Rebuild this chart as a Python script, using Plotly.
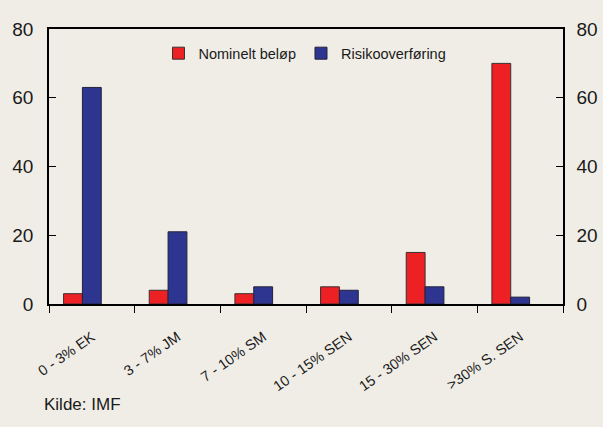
import plotly.graph_objects as go

# Tranches by seniority
categories = ["0 - 3% EK", "3 - 7% JM", "7 - 10% SM", "10 - 15% SEN", "15 - 30% SEN", ">30% S. SEN"]
nominelt = [3, 4, 3, 5, 15, 70]
risiko = [63, 21, 5, 4, 5, 2]
y_ticks = [0, 20, 40, 60, 80]

BG = "#f0ede6"
RED = "#ed2024"
BLUE = "#2e3590"
INK = "#1a1a1a"
FONT = "Liberation Sans, Arial, sans-serif"

pos = list(range(len(categories)))

fig = go.Figure()
fig.add_trace(go.Bar(
    x=pos, y=nominelt, name="Nominelt beløp",
    width=0.22, offset=-0.33,
    marker=dict(color=RED, line=dict(color="#3a3030", width=1)),
))
fig.add_trace(go.Bar(
    x=pos, y=risiko, name="Risikooverføring",
    width=0.22, offset=-0.11,
    marker=dict(color=BLUE, line=dict(color="#22223a", width=1)),
))
# carrier for the label axis and right-hand axis
fig.add_trace(go.Scatter(
    x=pos, y=[0] * len(pos), xaxis="x2", yaxis="y2",
    mode="markers", marker=dict(opacity=0), showlegend=False, hoverinfo="skip",
))

xr = [-0.5, len(categories) - 0.5]
yr = [0, 80]

fig.update_layout(
    width=603, height=427,
    paper_bgcolor=BG, plot_bgcolor=BG,
    margin=dict(l=49, r=40, t=29, b=123, autoexpand=False),
    font=dict(family=FONT, color=INK, size=15),
    barmode="overlay",
    showlegend=True,
    legend=dict(
        orientation="h", x=0.213, y=0.97, xanchor="left", yanchor="top",
        bgcolor="rgba(0,0,0,0)", font=dict(size=14.5, family=FONT),
        itemwidth=30, tracegroupgap=0,
    ),
    xaxis=dict(
        range=xr, tickmode="array", automargin=False,
        tickvals=[p - 0.5 for p in pos] + [len(pos) - 0.5],
        showticklabels=False, ticks="outside", ticklen=7, tickwidth=1.2,
        tickcolor="#000", showline=True, linecolor="#000", linewidth=1.5,
        mirror=True, showgrid=False, zeroline=False,
    ),
    xaxis2=dict(
        range=xr, overlaying="x", side="bottom", anchor="y", automargin=False,
        tickmode="array", tickvals=pos, ticktext=categories,
        tickangle=-35, ticks="outside", ticklen=18, tickcolor="rgba(0,0,0,0)",
        tickfont=dict(size=14.5, family=FONT, color=INK),
        showline=False, showgrid=False, zeroline=False,
    ),
    yaxis=dict(
        range=yr, tickmode="array", tickvals=y_ticks, automargin=False,
        ticks="inside", ticklen=7, tickwidth=1.2, tickcolor="#000",
        tickfont=dict(size=19, family=FONT, color=INK),
        ticklabelstandoff=10,
        showline=True, linecolor="#000", linewidth=1.5,
        showgrid=False, zeroline=False,
    ),
    yaxis2=dict(
        range=yr, overlaying="y", side="right", anchor="x", automargin=False,
        tickmode="array", tickvals=y_ticks,
        ticks="inside", ticklen=7, tickwidth=1.2, tickcolor="#000",
        tickfont=dict(size=19, family=FONT, color=INK),
        ticklabelstandoff=8,
        showline=True, linecolor="#000", linewidth=1.5,
        showgrid=False, zeroline=False,
    ),
    annotations=[dict(
        text="Kilde: IMF", xref="paper", yref="paper",
        x=-0.0137, y=-0.365, xanchor="left", yanchor="middle",
        showarrow=False, font=dict(size=17, family=FONT, color=INK),
    )],
)

fig.write_html("out.html")
